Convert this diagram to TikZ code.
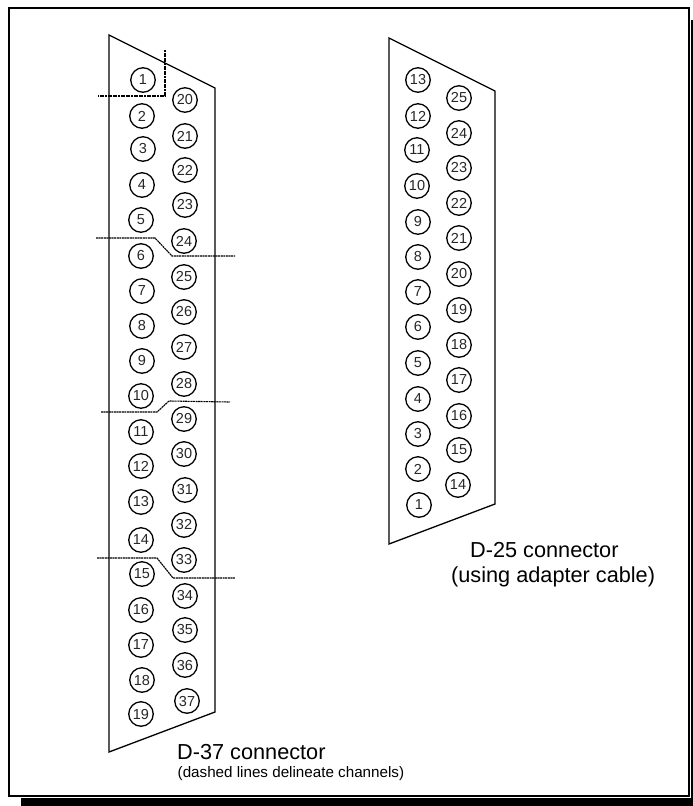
\documentclass[tikz,border=0pt]{standalone}
\usepackage{fontspec}
\setmainfont{Liberation Sans}
\tikzset{
  pinhole/.style={draw=black,circle,line width=1.3pt,minimum size=24.5pt,inner sep=0pt,font=\fontsize{14.5}{15}\selectfont,text=black!85},
  shell/.style={draw=black,line width=1.3pt,line join=miter},
  chan/.style={draw=black,line width=1.1pt,dash pattern=on 2pt off 0.6pt},
  frameline/.style={draw=black,line width=2pt},
  caption/.style={anchor=base west,inner sep=0pt,text=black}
}
\begin{document}
\begin{tikzpicture}[x=1pt,y=-1pt]
\useasboundingbox (0,0) rectangle (693,806);
% frame and shadow
\draw[frameline] (8.5,8) -- (689,8) -- (689,796) -- (8.5,796) -- cycle;
\fill[black] (21,798) rectangle (693,806);
\fill[black] (691,20) rectangle (693,806);
% shells
\draw[shell] (109,35) -- (215,88) -- (215,712) -- (109,752) -- cycle;
\draw[shell] (389,38) -- (495,91) -- (495,504) -- (389,544) -- cycle;
% D-37 pins
\foreach \n/\x/\y in {1/143/80,2/142/116,3/143/149,4/142/185,5/141/220,6/141/256,7/142/291,8/142/326,9/142/361,10/141/396,11/141/432,12/141/466,13/141/502,14/141/540,15/142/574,16/141/610,17/141/645,18/142/680,19/141/714,
20/185/100,21/185/136,22/185/170,23/185/205,24/184/241,25/184/277,26/184/312,27/184/347,28/184/384,29/184/419,30/184/454,31/185/490,32/184/525,33/184/560,34/185/596,35/185/630,36/185/665,37/187/701}
  \node[pinhole] (a\n) at (\x,\y) {\n};
% D-25 pins
\foreach \n/\x/\y in {13/418/80,12/418/116,11/417/150,10/417/186,9/418/222,8/418/257,7/418/292,6/418/327,5/418/363,4/418/399,3/418/434,2/418/469,1/419/505,
25/459/98,24/459/133,23/459/168,22/459/203,21/459/238,20/459/274,19/459/310,18/459/345,17/459/380,16/459/416,15/459/450,14/458/485}
  \node[pinhole] (b\n) at (\x,\y) {\n};
% channel separators
\coordinate (c1a) at (165,50); \coordinate (c1b) at (165,96); \coordinate (c1c) at (98,96);
\draw[chan] (c1a) -- (c1b) -- (c1c);
\coordinate (c2a) at (96,238); \coordinate (c2b) at (155,238); \coordinate (c2c) at (172,256); \coordinate (c2d) at (235,256);
\draw[chan] (c2a) -- (c2b) -- (c2c) -- (c2d);
\coordinate (c3a) at (101,412); \coordinate (c3b) at (157,412); \coordinate (c3c) at (169,401); \coordinate (c3d) at (230,402);
\draw[chan] (c3a) -- (c3b) -- (c3c) -- (c3d);
\coordinate (c4a) at (97,558); \coordinate (c4b) at (157,558); \coordinate (c4c) at (173,578); \coordinate (c4d) at (235,578);
\draw[chan] (c4a) -- (c4b) -- (c4c) -- (c4d);
% captions
\node[caption,font=\fontsize{21.7}{23}\selectfont] (t37) at (177,759.5) {D-37 connector};
\node[caption,font=\fontsize{15.2}{16}\selectfont] (t37b) at (177.5,777) {(dashed lines delineate channels)};
\node[caption,font=\fontsize{21.7}{23}\selectfont] (t25) at (470,557) {D-25 connector};
\node[caption,font=\fontsize{21.7}{23}\selectfont] (t25b) at (451,582) {(using adapter cable)};
\end{tikzpicture}
\end{document}
